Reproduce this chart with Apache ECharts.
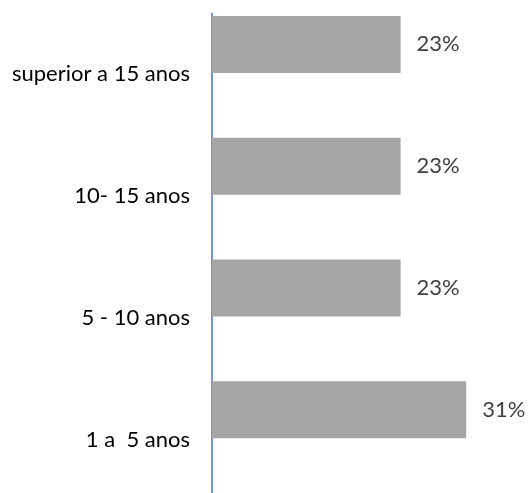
<!DOCTYPE html>
<html>
<head>
<meta charset="utf-8">
<script src="https://cdn.jsdelivr.net/npm/echarts@6/dist/echarts.min.js"></script>
<style>
  html, body { margin: 0; padding: 0; background: #fff; overflow: hidden; }
  #chart { width: 531px; height: 510px; }
</style>
</head>
<body>
<div id="chart"></div>
<script>
// Tempo de serviço: share of respondents per bracket (bottom to top)
const categories = ['1 a  5 anos', '5 - 10 anos', '10- 15 anos', 'superior a 15 anos'];
const shares = [31, 23, 23, 23];

const chart = echarts.init(document.getElementById('chart'), null, { renderer: 'canvas' });

chart.setOption({
  animation: false,
  grid: { left: 212, right: 32, top: 13.5, height: 487, containLabel: false },
  xAxis: {
    type: 'value',
    min: 0,
    max: 35,
    show: false
  },
  yAxis: {
    type: 'category',
    data: categories,
    axisLine: { show: true, lineStyle: { color: '#4472C4', width: 1.5 } },
    axisTick: { show: false },
    axisLabel: {
      color: '#000000',
      fontFamily: 'Lato, "Open Sans", sans-serif',
      fontSize: 22,
      margin: 22
    }
  },
  series: [
    {
      type: 'bar',
      data: shares,
      barWidth: 57,
      barGap: '5.26%',
      itemStyle: { color: '#A5A5A5' },
      label: {
        show: true,
        position: 'right',
        distance: 16,
        formatter: '{c}%',
        color: '#404040',
        fontFamily: 'Lato, "Open Sans", sans-serif',
        fontSize: 22
      }
    },
    {
      // empty companion series keeps the bars in the upper part of each band
      type: 'bar',
      data: categories.map(() => null),
      barWidth: 57,
      itemStyle: { color: 'transparent' }
    }
  ]
});
</script>
</body>
</html>
